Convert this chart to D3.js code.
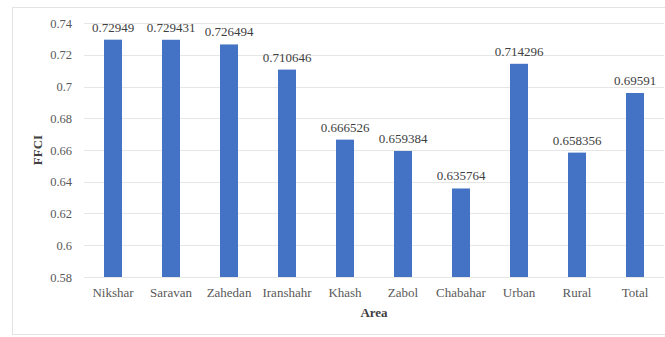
<!DOCTYPE html>
<html>
<head>
<meta charset="utf-8">
<script src="https://cdn.jsdelivr.net/npm/d3@7"></script>
<style>
  body { margin: 0; background: #fff; }
  text { font-family: "Liberation Serif", "DejaVu Serif", serif; }
</style>
</head>
<body>
<svg></svg>
<script>
const areas = ['Nikshar', 'Saravan', 'Zahedan', 'Iranshahr', 'Khash', 'Zabol', 'Chabahar', 'Urban', 'Rural', 'Total'];
const ffci = [0.72949, 0.729431, 0.726494, 0.710646, 0.666526, 0.659384, 0.635764, 0.714296, 0.658356, 0.69591];
const yTicks = [0.58, 0.6, 0.62, 0.64, 0.66, 0.68, 0.7, 0.72, 0.74];

const svgWidth = 665;
const svgHeight = 337;
const margin = { top: 23, right: 1, bottom: 60, left: 84 };
const width = svgWidth - margin.left - margin.right;
const height = svgHeight - margin.top - margin.bottom;

const root = d3.select('svg')
    .attr('width', svgWidth)
    .attr('height', svgHeight);

// chart frame
root.append('rect')
    .attr('x', 12.5)
    .attr('y', 7.5)
    .attr('width', 660)
    .attr('height', 327)
    .attr('fill', 'none')
    .attr('stroke', '#e3e3e3');

const svg = root.append('g')
    .attr('transform', `translate(${margin.left}, ${margin.top})`);

const x = d3.scaleBand()
    .domain(areas)
    .range([0, width])
    .paddingInner(0.69)
    .paddingOuter(0.345);

const y = d3.scaleLinear()
    .domain([0.58, 0.74])
    .range([height, 0]);

// gridlines
svg.selectAll('.grid')
    .data(yTicks)
    .enter().append('line')
    .attr('x1', 0)
    .attr('x2', width)
    .attr('y1', d => Math.round(y(d)) + 0.5)
    .attr('y2', d => Math.round(y(d)) + 0.5)
    .attr('stroke', '#e6e6e6');

const yAxis = svg.append('g')
    .call(d3.axisLeft(y).tickValues(yTicks).tickSize(0).tickPadding(12).tickFormat(d => String(+d.toFixed(2))));
yAxis.select('.domain').remove();
yAxis.selectAll('text')
    .attr('font-size', '12.5px')
    .attr('fill', '#595959')
    .style('font-family', '"Liberation Serif", serif');

svg.selectAll('.bar')
    .data(areas)
    .enter().append('rect')
    .attr('class', 'bar')
    .attr('x', d => x(d))
    .attr('y', (d, i) => y(ffci[i]))
    .attr('width', x.bandwidth())
    .attr('height', (d, i) => height - y(ffci[i]))
    .attr('fill', '#4472c4');

svg.selectAll('.label')
    .data(areas)
    .enter().append('text')
    .attr('class', 'label')
    .attr('x', d => x(d) + x.bandwidth() / 2)
    .attr('y', (d, i) => y(ffci[i]) - 8)
    .attr('text-anchor', 'middle')
    .attr('font-size', '13px')
    .attr('fill', '#404040')
    .text((d, i) => ffci[i]);

const xAxis = svg.append('g')
    .attr('transform', `translate(0, ${height})`)
    .call(d3.axisBottom(x).tickSize(0).tickPadding(11));
xAxis.select('.domain').remove();
xAxis.selectAll('text')
    .attr('font-size', '13px')
    .attr('fill', '#595959')
    .style('font-family', '"Liberation Serif", serif');

svg.append('text')
    .attr('x', width / 2)
    .attr('y', height + 40)
    .attr('text-anchor', 'middle')
    .attr('font-size', '13px')
    .attr('font-weight', 'bold')
    .attr('fill', '#404040')
    .text('Area');

svg.append('text')
    .attr('transform', 'rotate(-90)')
    .attr('x', -height / 2)
    .attr('y', -42)
    .attr('text-anchor', 'middle')
    .attr('font-size', '13px')
    .attr('font-weight', 'bold')
    .attr('fill', '#404040')
    .text('FFCI');
</script>
</body>
</html>
